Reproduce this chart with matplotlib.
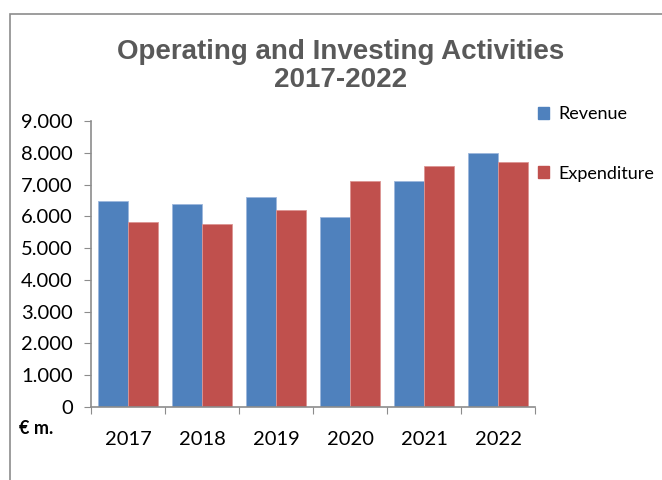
import matplotlib.pyplot as plt
from matplotlib.patches import Rectangle, Patch
from matplotlib.ticker import FuncFormatter, MultipleLocator
import numpy as np

years = ["2017", "2018", "2019", "2020", "2021", "2022"]
revenue = [6480, 6380, 6600, 5980, 7100, 8000]
expenditure = [5830, 5750, 6200, 7100, 7570, 7700]

blue = "#4F81BD"
red = "#C0504D"

plt.rcParams["font.family"] = ["Lato", "DejaVu Sans"]

fig = plt.figure(figsize=(6.62, 4.8), dpi=100)
W, H = 662, 480

# chart border
fig.patches.append(Rectangle((10 / W, -0.1), 1.2, 1 - 14 / H + 0.1, transform=fig.transFigure,
                             fill=False, edgecolor="#8c8c8c", linewidth=1.2))

ax = fig.add_axes([91 / W, 1 - 407 / H, 444 / W, (407 - 121) / H])

x = np.arange(len(years))
w = 0.41
ax.bar(x - w / 2, revenue, w, color=blue, edgecolor="#9db7dc", linewidth=0.6, label="Revenue")
ax.bar(x + w / 2, expenditure, w, color=red, edgecolor="#dc9593", linewidth=0.6, label="Expenditure")

ax.set_xlim(-0.5, len(years) - 0.5)
ax.set_ylim(0, 9000)
ax.yaxis.set_major_locator(MultipleLocator(1000))
ax.yaxis.set_major_formatter(FuncFormatter(lambda v, p: "0" if v == 0 else f"{int(v):,}".replace(",", ".")))

ax.set_xticks(np.arange(len(years) + 1) - 0.5)
ax.set_xticklabels([])
ax.set_xticks(x, minor=True)
ax.set_xticklabels(years, minor=True)
ax.tick_params(axis="x", which="minor", length=0, labelsize=14.5, pad=17)
ax.tick_params(axis="x", which="major", length=5, color="#8c8c8c", direction="out")
ax.tick_params(axis="y", length=5, color="#8c8c8c", labelsize=14.5, pad=8)

for s in ["top", "right"]:
    ax.spines[s].set_visible(False)
for s in ["left", "bottom"]:
    ax.spines[s].set_color("#8c8c8c")
    ax.spines[s].set_linewidth(1.2)

fig.text(341 / W, 1 - 66 / H, "Operating and Investing Activities\n2017-2022",
         ha="center", va="center", fontsize=20, fontweight="bold", color="#595959",
         family=["Liberation Sans", "DejaVu Sans"], linespacing=1.1)

fig.text(19 / W, 1 - 428 / H, "€ m.", fontsize=13, fontweight="bold", va="center", ha="left")

handles = [Patch(color=blue), Patch(color=red)]
fig.legend(handles, ["Revenue", "Expenditure"], loc="upper left",
           bbox_to_anchor=(522 / W, 1 - 90 / H), frameon=False, fontsize=13,
           labelspacing=2.4, handlelength=0.6, handleheight=0.6, handletextpad=0.5)

fig.savefig("out.png", dpi=100)
